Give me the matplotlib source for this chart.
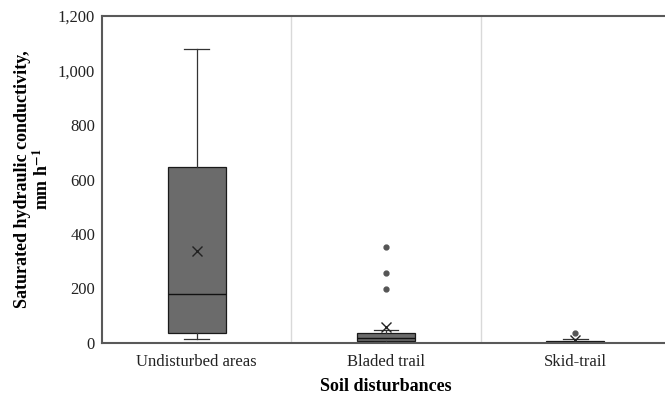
import numpy as np
import matplotlib.pyplot as plt

plt.rcParams['font.family'] = ['Liberation Serif', 'DejaVu Serif']
plt.rcParams['mathtext.fontset'] = 'stix'

# 土壤扰动类别及箱线统计量
categories = ["Undisturbed areas", "Bladed trail", "Skid-trail"]
whisker_low = [15, 2, 1]
q1 = [36, 7, 3]
median = [180, 18, 5]
q3 = [647, 36, 8]
whisker_high = [1079, 48, 15]
mean = [337, 60, 10]
outliers = [[], [352, 257, 198], [38]]

stats = []
for i, name in enumerate(categories):
    stats.append(dict(label=name, whislo=whisker_low[i], q1=q1[i], med=median[i],
                      q3=q3[i], whishi=whisker_high[i], mean=mean[i], fliers=outliers[i]))

fig = plt.figure(figsize=(6.65, 4.01), dpi=100)
ax = fig.add_axes([102 / 665, 58 / 401, 568 / 665, 327 / 401])

pos = np.arange(len(categories))
ax.bxp(stats, positions=pos, widths=0.307, patch_artist=True, showmeans=True,
       boxprops=dict(facecolor='#6b6b6b', edgecolor='#1a1a1a', linewidth=0.9),
       medianprops=dict(color='#111111', linewidth=1.0),
       whiskerprops=dict(color='#333333', linewidth=0.9),
       capprops=dict(color='#333333', linewidth=0.9),
       capwidths=0.13,
       meanprops=dict(marker='x', markeredgecolor='#222222', markersize=7, markeredgewidth=1.0),
       flierprops=dict(marker='o', markerfacecolor='#555555', markeredgecolor='#555555',
                       markersize=3.5))

# 类别之间的分隔线
for x in pos[:-1] + 0.5:
    ax.axvline(x, color='#d9d9d9', linewidth=1.0, zorder=0)

ax.set_xlim(-0.5, 2.5)
ax.set_ylim(0, 1200)
ax.set_yticks(range(0, 1201, 200))
ax.set_yticklabels([f"{v:,}" for v in range(0, 1201, 200)])
ax.set_xticks(pos)
ax.set_xticklabels(categories)
ax.tick_params(axis='both', length=0, labelsize=12, colors='#222222', pad=8)
ax.tick_params(axis='y', pad=5)

for side in ['left', 'top', 'bottom']:
    ax.spines[side].set_color('#595959')
    ax.spines[side].set_linewidth(1.5)
ax.spines['right'].set_visible(False)

ax.set_xlabel("Soil disturbances", fontsize=13, fontweight='bold', labelpad=6)
ax.set_ylabel("Saturated hydraulic conductivity,\nmm h$^{\\mathbf{-1}}$", fontsize=13,
              fontweight='bold', labelpad=4, linespacing=1.1)

fig.savefig("out.png", dpi=100)
